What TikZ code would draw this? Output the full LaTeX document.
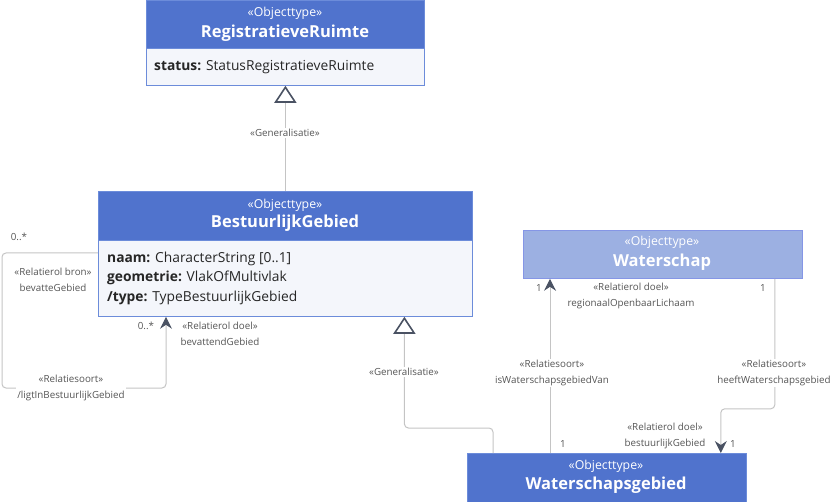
\documentclass[tikz,border=0pt]{standalone}
\usepackage{fontspec}
\setmainfont{Open Sans}
\usetikzlibrary{arrows.meta}
\definecolor{hdr}{HTML}{5073CD}
\definecolor{brd}{HTML}{6C8CDA}
\definecolor{bodyc}{HTML}{F4F6FB}
\definecolor{lightc}{HTML}{9CB0E2}
\definecolor{conn}{HTML}{C4C4C4}
\definecolor{tipc}{HTML}{4A5263}
\definecolor{lblc}{HTML}{555555}
\begin{document}
\begin{tikzpicture}[x=1pt,y=-1pt,
  boxbody/.style={draw=brd, line width=0.8pt, fill=bodyc, inner sep=0, anchor=north west},
  boxhead/.style={fill=hdr, draw=brd, line width=0.8pt, inner sep=0, anchor=north west},
  boxlight/.style={fill=lightc, draw=lightc!85!blue, line width=0.8pt, inner sep=0, anchor=north west},
  stereo/.style={text=white, font=\fontsize{12.3}{14}\selectfont, inner sep=0},
  cname/.style={text=white, font=\bfseries\fontsize{16.5}{19}\selectfont, inner sep=0},
  attr/.style={text=black!85, font=\fontsize{13.8}{16}\selectfont, inner sep=0, anchor=west},
  lbl/.style={text=lblc, font=\fontsize{9.8}{15.5}\selectfont, fill=white, inner sep=1pt, align=center},
  mult/.style={text=lblc, font=\fontsize{9.8}{11}\selectfont, inner sep=0},
  line/.style={draw=conn, line width=1pt, rounded corners=4pt},
  gen/.style={line, -{Triangle[open, length=17pt, width=22pt, color=tipc, line width=1.6pt]}},
  assoc/.style={line, -{Stealth[length=12pt, width=12pt, inset=4pt, color=tipc]}}
]
\useasboundingbox (0,0) rectangle (840,502);

% RegistratieveRuimte
\node[boxbody, minimum width=278pt, minimum height=85pt] (rr) at (146,0) {};
\node[boxhead, minimum width=278pt, minimum height=48pt] (rrh) at (146,0) {};
\node[stereo] (rrs) at (285,13) {«Objecttype»};
\node[cname] (rrn) at (285,33) {RegistratieveRuimte};
\node[attr] (rra) at (154,67) {\textbf{status:} StatusRegistratieveRuimte};

% BestuurlijkGebied
\node[boxbody, minimum width=374pt, minimum height=125pt] (bg) at (98,191) {};
\node[boxhead, minimum width=374pt, minimum height=49pt] (bgh) at (98,191) {};
\node[stereo] (bgs) at (285,205) {«Objecttype»};
\node[cname] (bgn) at (285,223) {BestuurlijkGebied};
\node[attr] (bga1) at (107,259) {\textbf{naam:} CharacterString [0..1]};
\node[attr] (bga2) at (107,278) {\textbf{geometrie:} VlakOfMultivlak};
\node[attr] (bga3) at (107,298) {\textbf{/type:} TypeBestuurlijkGebied};

% Waterschap
\node[boxlight, minimum width=279pt, minimum height=48pt] (w) at (523,230) {};
\node[stereo] (ws) at (662,242) {«Objecttype»};
\node[cname] (wn) at (662,262) {Waterschap};

% Waterschapsgebied
\node[boxhead, minimum width=279pt, minimum height=52pt] (wg) at (467,453) {};
\node[stereo] (wgs) at (606,466) {«Objecttype»};
\node[cname] (wgn) at (606,485) {Waterschapsgebied};

% Generalisatie 1
\draw[gen] (bg.north) -- (rr.south);
\node[lbl] (g1) at (285,133) {«Generalisatie»};

% Generalisatie 2
\draw[gen] ([xshift=26pt]wg.north west) -- ++(0,-25) -| ([xshift=119pt]bg.south);
\node[lbl] (g2) at (404,372) {«Generalisatie»};

% self association
\draw[assoc] ([yshift=-62pt]bg.north west) -- ++(-96,0) -- ++(0,135) -| ([xshift=68pt]bg.south west);
\node[mult] (m1) at (19,237) {0..*};
\node[lbl] (l1) at (53,280) {«Relatierol bron»\\bevatteGebied};
\node[mult] (m2) at (146,326) {0..*};
\node[lbl] (l2) at (220,334) {«Relatierol doel»\\bevattendGebied};
\node[lbl] (l3) at (71,388) {«Relatiesoort»\\/ligtInBestuurlijkGebied};

% isWaterschapsgebiedVan
\draw[assoc] ([xshift=83pt]wg.north west) coordinate (a1) -- (a1 |- w.south);
\node[mult] (m3) at (539,288) {1};
\node[lbl] (l4) at (631,296) {«Relatierol doel»\\regionaalOpenbaarLichaam};
\node[lbl] (l5) at (552,373) {«Relatiesoort»\\isWaterschapsgebiedVan};
\node[mult] (m4) at (563,444) {1};

% heeftWaterschapsgebied
\draw[assoc] ([xshift=-28pt]w.south east) -- ++(0,130) -| ([xshift=-26pt]wg.north east);
\node[mult] (m5) at (763,288) {1};
\node[lbl] (l6) at (774,373) {«Relatiesoort»\\heeftWaterschapsgebied};
\node[lbl] (l7) at (665,436) {«Relatierol doel»\\bestuurlijkGebied};
\node[mult] (m6) at (733,444) {1};
\end{tikzpicture}
\end{document}
